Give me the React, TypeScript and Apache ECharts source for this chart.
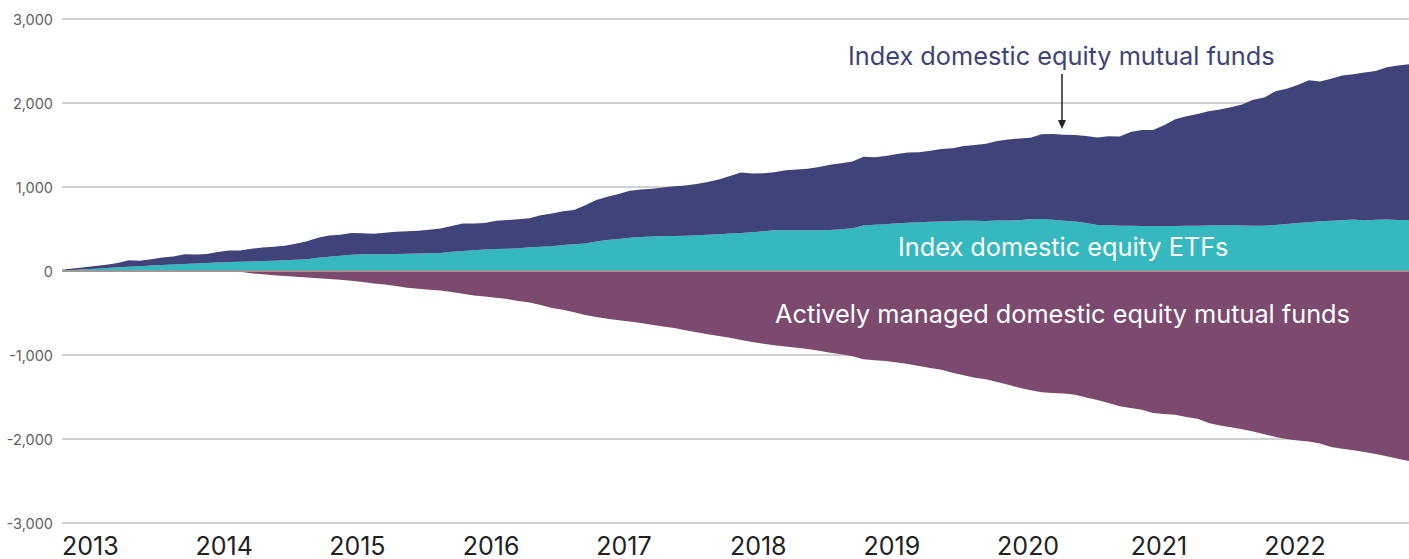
import React, { useEffect, useRef } from "react";
import * as echarts from "echarts";

const years = ["2013", "2014", "2015", "2016", "2017", "2018", "2019", "2020", "2021", "2022", "2023"];
const monthsShown = 122; // Jan 2013 .. Feb 2023
const labeledYears = 10; // 2013 .. 2022 carry a label

const etfs = [
  5, 12, 20, 28, 36, 46, 52, 58, 64, 70, 76, 82,
  90, 96, 100, 106, 110, 114, 118, 122, 128, 134, 140, 158,
  170, 182, 192, 198, 200, 200, 202, 205, 208, 210, 214, 228,
  238, 246, 256, 262, 266, 270, 282, 290, 294, 310, 318, 326,
  350, 368, 382, 396, 405, 412, 417, 418, 420, 425, 432, 437,
  445, 452, 460, 472, 484, 484, 484, 484, 486, 488, 496, 510,
  542, 550, 556, 568, 575, 580, 585, 590, 596, 598, 597, 595,
  600, 602, 605, 618, 620, 610, 598, 588, 571, 548, 544, 540,
  538, 537, 536, 536, 537, 538, 540, 542, 544, 544, 542, 540,
  540, 548, 560, 570, 580, 592, 598, 605, 612, 600, 610, 612,
  608, 607,
];

const indexMutualFunds = [
  10, 18, 25, 32, 39, 49, 76, 65, 76, 90, 96, 118,
  105, 106, 125, 139, 133, 151, 162, 166, 174, 191, 215, 237,
  252, 250, 260, 250, 244, 256, 266, 269, 270, 282, 292, 307,
  328, 318, 314, 336, 342, 345, 346, 375, 391, 400, 408, 458,
  495, 517, 536, 559, 565, 568, 578, 592, 598, 610, 628, 653,
  685, 720, 700, 691, 691, 716, 724, 734, 752, 777, 786, 795,
  818, 805, 812, 824, 835, 834, 847, 862, 866, 890, 903, 920,
  948, 963, 973, 967, 1007, 1022, 1025, 1032, 1036, 1042, 1059, 1060,
  1117, 1141, 1144, 1199, 1271, 1305, 1330, 1361, 1378, 1406, 1440, 1500,
  1524, 1592, 1610, 1645, 1692, 1663, 1692, 1723, 1730, 1762, 1772, 1813,
  1837, 1853,
];

const activeMutualFunds = [
  0, -2, -4, -6, -8, -10, -8, -6, -5, -8, -10, -6,
  -4, -2, 0, 0, -10, -28, -40, -50, -60, -68, -78, -86,
  -95, -105, -115, -132, -148, -162, -180, -200, -212, -222, -232, -250,
  -270, -292, -304, -318, -334, -356, -375, -405, -440, -462, -490, -524,
  -548, -568, -585, -600, -620, -640, -660, -680, -705, -728, -752, -775,
  -796, -820, -845, -865, -885, -900, -915, -930, -950, -972, -992, -1015,
  -1050, -1062, -1072, -1090, -1108, -1130, -1155, -1175, -1212, -1240, -1270, -1290,
  -1320, -1355, -1390, -1420, -1444, -1452, -1458, -1472, -1505, -1536, -1570, -1610,
  -1630, -1652, -1690, -1702, -1712, -1738, -1760, -1810, -1840, -1860, -1885, -1912,
  -1942, -1975, -2000, -2018, -2030, -2055, -2095, -2115, -2135, -2155, -2180, -2205,
  -2235, -2262,
];

const labelIndexMF = "Index domestic equity mutual funds";
const labelETF = "Index domestic equity ETFs";
const labelActive = "Actively managed domestic equity mutual funds";

const COLOR_INDEX_MF = "#40427A";
const COLOR_ETF = "#35B9BE";
const COLOR_ACTIVE = "#7C4A6F";

const categories: string[] = [];
years.forEach((y) => {
  for (let m = 1; m <= 12; m++) {
    if (categories.length < monthsShown) categories.push(`${y}-${m < 10 ? "0" + m : m}`);
  }
});

const FONT = "Inter, 'Noto Sans', sans-serif";

export default function App() {
  const ref = useRef<HTMLDivElement>(null);
  useEffect(() => {
    document.body.style.margin = "0";
    const chart = echarts.init(ref.current!, undefined, { renderer: "svg" });
    chart.setOption({
      animation: false,
      textStyle: { fontFamily: FONT },
      grid: {
        left: 62,
        right: 0,
        top: 19,
        bottom: 36,
        containLabel: false,
        outerBoundsMode: "none",
      },
      xAxis: {
        type: "category",
        data: categories,
        boundaryGap: false,
        axisLine: { show: false },
        axisTick: { show: false },
        splitLine: { show: false },
        axisLabel: {
          interval: (index: number) => index % 12 === 0 && index < labeledYears * 12,
          formatter: (v: string) => v.slice(0, 4),
          align: "left",
          fontSize: 25,
          color: "#222",
          margin: 10,
          fontFamily: FONT,
          hideOverlap: false,
        },
      },
      yAxis: {
        type: "value",
        min: -3000,
        max: 3000,
        interval: 1000,
        axisLine: { show: false },
        axisTick: { show: false },
        splitLine: { lineStyle: { color: "#c2c2c2", width: 1.5 } },
        axisLabel: {
          fontSize: 14.5,
          color: "#5f5f5f",
          margin: 9,
          fontFamily: FONT,
          formatter: (v: number) => v.toLocaleString("en-US"),
        },
      },
      series: [
        {
          name: labelETF,
          type: "line",
          stack: "pos",
          data: etfs,
          showSymbol: false,
          lineStyle: { width: 0 },
          areaStyle: { color: COLOR_ETF, opacity: 1 },
          itemStyle: { color: COLOR_ETF },
        },
        {
          name: labelIndexMF,
          type: "line",
          stack: "pos",
          data: indexMutualFunds,
          showSymbol: false,
          lineStyle: { width: 0 },
          areaStyle: { color: COLOR_INDEX_MF, opacity: 1 },
          itemStyle: { color: COLOR_INDEX_MF },
        },
        {
          name: labelActive,
          type: "line",
          data: activeMutualFunds,
          showSymbol: false,
          lineStyle: { width: 0 },
          areaStyle: { color: COLOR_ACTIVE, opacity: 1 },
          itemStyle: { color: COLOR_ACTIVE },
          markLine: {
            silent: true,
            symbol: "none",
            label: { show: false },
            lineStyle: { color: "#999", width: 2, type: "solid" },
            data: [{ yAxis: 0 }],
          },
        },
      ],
      graphic: [
        {
          type: "text",
          z: 100,
          x: 848,
          y: 55,
          style: {
            text: labelIndexMF,
            fill: COLOR_INDEX_MF,
            fontSize: 25.3,
            fontFamily: FONT,
            verticalAlign: "middle",
          },
        },
        {
          type: "text",
          z: 100,
          x: 898,
          y: 246,
          style: { text: labelETF, fill: "#fff", fontSize: 25.3, fontFamily: FONT, verticalAlign: "middle" },
        },
        {
          type: "text",
          z: 100,
          x: 775,
          y: 313,
          style: { text: labelActive, fill: "#fff", fontSize: 25.3, fontFamily: FONT, verticalAlign: "middle" },
        },
        {
          type: "line",
          z: 100,
          shape: { x1: 1062, y1: 74, x2: 1062, y2: 124 },
          style: { stroke: "#222", lineWidth: 1.5 },
        },
        {
          type: "polygon",
          z: 100,
          shape: { points: [[1058, 120], [1066, 120], [1062, 129]] },
          style: { fill: "#222" },
        },
      ],
    });
    return () => chart.dispose();
  }, []);
  return <div ref={ref} style={{ width: 1409, height: 559 }} />;
}
